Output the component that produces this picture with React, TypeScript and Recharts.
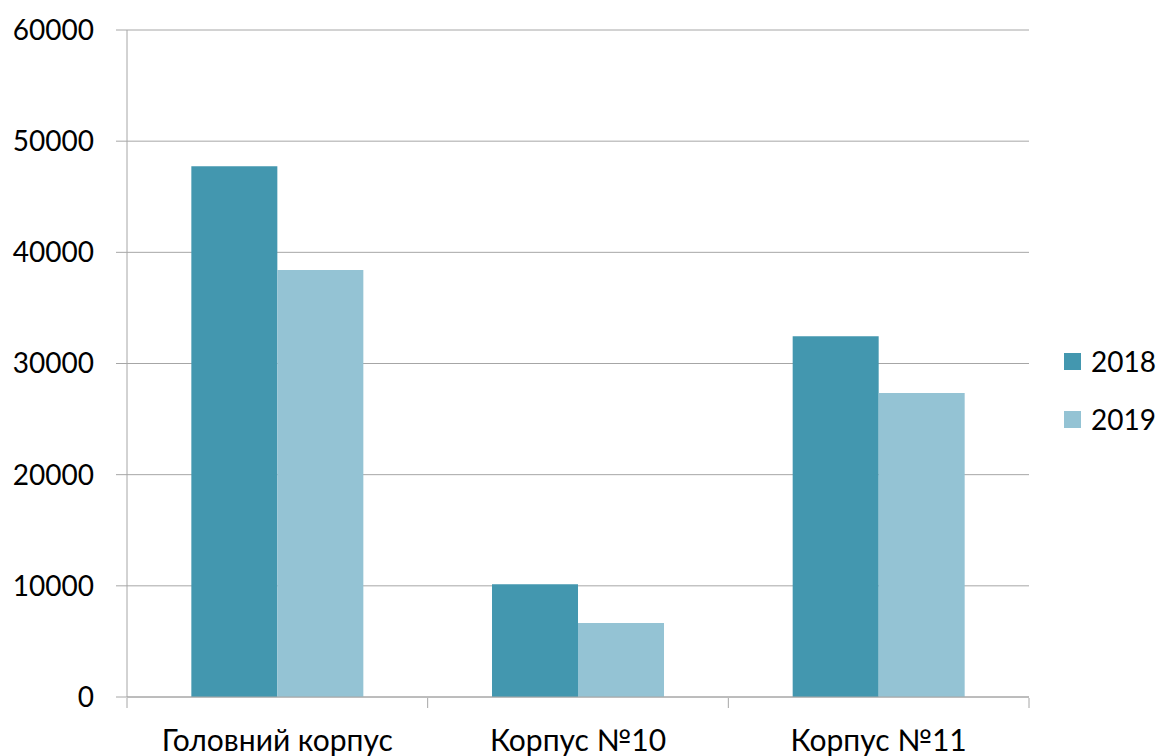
import { Bar, BarChart, CartesianGrid, XAxis, YAxis } from "recharts";

const categories = ["Головний корпус", "Корпус №10", "Корпус №11"];
const series2018 = [47750, 10150, 32450];
const series2019 = [38400, 6650, 27350];
const seriesNames = ["2018", "2019"];
const yTicks = [0, 10000, 20000, 30000, 40000, 50000, 60000];
const edgeTicks = [0, 1, 2, 3];

const colors = {
  dark: "#4397AF",
  light: "#94C3D4",
  grid: "#A6A6A6",
  text: "#000000",
};

const font = "Lato, 'Open Sans', sans-serif";

const data = categories.map((name, i) => ({
  name,
  v2018: series2018[i],
  v2019: series2019[i],
  edge: i + 0.5,
}));

export default function App() {
  return (
    <div style={{ position: "absolute", left: 0, top: 0, width: 1166, height: 756, background: "#fff", fontFamily: font }}>
      <BarChart
        width={1166}
        height={756}
        data={data}
        margin={{ top: 30, right: 137, left: 0, bottom: 0 }}
        barCategoryGap="21.4%"
        barGap={0}
      >
        <CartesianGrid vertical={false} stroke={colors.grid} strokeWidth={1} />
        <XAxis
          dataKey="name"
          height={1}
          tickLine={false}
          axisLine={{ stroke: colors.grid }}
          tickSize={0}
          tickMargin={33}
          tick={{ fill: colors.text, fontSize: 30, fontFamily: font }}
          interval={0}
        />
        {/* boundary tick marks between categories */}
        <XAxis
          xAxisId="edges"
          type="number"
          dataKey="edge"
          domain={[0, 3]}
          ticks={edgeTicks}
          tick={() => <g />}
          tickSize={10}
          tickLine={{ stroke: colors.grid }}
          axisLine={false}
          height={58}
        />
        <YAxis
          width={127}
          domain={[0, 60000]}
          ticks={yTicks}
          tickSize={11}
          tickMargin={22}
          tickLine={{ stroke: colors.grid }}
          axisLine={{ stroke: colors.grid }}
          tick={{ fill: colors.text, fontSize: 28, fontFamily: font }}
          interval={0}
        />
        <Bar dataKey="v2018" name={seriesNames[0]} fill={colors.dark} isAnimationActive={false} />
        <Bar dataKey="v2019" name={seriesNames[1]} fill={colors.light} isAnimationActive={false} />
      </BarChart>
      <div style={{ position: "absolute", left: 1064, top: 341 }}>
        {seriesNames.map((name, i) => (
          <div key={name} style={{ display: "flex", alignItems: "center", height: 40, marginBottom: 18 }}>
            <span style={{ width: 17, height: 17, background: i === 0 ? colors.dark : colors.light, marginRight: 10 }} />
            <span style={{ fontSize: 28, color: colors.text, lineHeight: "40px" }}>{name}</span>
          </div>
        ))}
      </div>
    </div>
  );
}
